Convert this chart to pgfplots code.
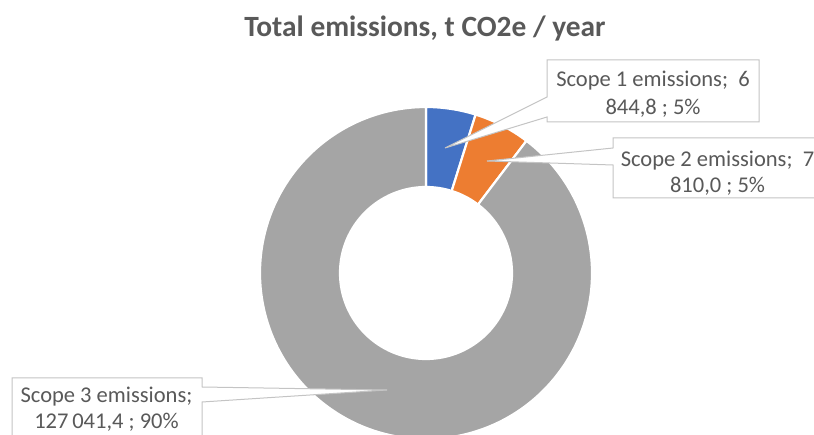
\documentclass[border=0pt]{standalone}
\usepackage{pgfplots}
\pgfplotsset{compat=1.18}
\usepackage{pgfplotstable}
\usepackage{fontspec}
\setmainfont{Carlito}
\definecolor{cblue}{HTML}{4472C4}
\definecolor{corange}{HTML}{ED7D31}
\definecolor{cgray}{HTML}{A5A5A5}
\definecolor{ctext}{HTML}{595959}
\definecolor{cbox}{HTML}{C4C4C4}

\pgfplotstableread{
id value
1 6844.8
2 7810.0
3 127041.4
}\emis

\newcommand\ringwedge[3]{%
  \filldraw[fill=#1, draw=white, line width=2.2bp]
    ([shift={(#2:166bp)}]axis cs:426,162) arc[start angle=#2, end angle=#3, radius=166bp]
    -- ([shift={(#3:86bp)}]axis cs:426,162) arc[start angle=#3, end angle=#2, radius=86bp] -- cycle;}

\begin{document}
\pgfplotstablegetelem{0}{value}\of\emis \edef\va{\pgfplotsretval}%
\pgfplotstablegetelem{1}{value}\of\emis \edef\vb{\pgfplotsretval}%
\pgfplotstablegetelem{2}{value}\of\emis \edef\vc{\pgfplotsretval}%
\edef\aA{90}%
\edef\aB{\fpeval{90-360*\va/(\va+\vb+\vc)}}%
\edef\aC{\fpeval{\aB-360*\vb/(\va+\vb+\vc)}}%
\edef\aD{\fpeval{\aC-360*\vc/(\va+\vb+\vc)}}%
\begin{tikzpicture}
\begin{axis}[scale only axis, width=814bp, height=435bp,
  xmin=0, xmax=814, ymin=0, ymax=435, hide axis, clip=true]
\ringwedge{cblue}{\aA}{\aB}
\ringwedge{corange}{\aB}{\aC}
\ringwedge{cgray}{\aC}{\aD}
% title
\node[font=\fontsize{29.5}{35}\selectfont\bfseries, text=ctext, anchor=base, inner sep=0]
  at (axis cs:425,398.5) {Total emissions, t CO2e / year};
% callouts
\filldraw[fill=white, draw=cbox, line width=1bp]
  (axis cs:547,375) -- (axis cs:759,375) -- (axis cs:759,313) -- (axis cs:547,313)
  -- (axis cs:547,318) -- (axis cs:445,287) -- (axis cs:547,338) -- cycle;
\filldraw[fill=white, draw=cbox, line width=1bp]
  (axis cs:613,297) -- (axis cs:830,297) -- (axis cs:830,237) -- (axis cs:613,237)
  -- (axis cs:613,270) -- (axis cs:487,274) -- (axis cs:613,287) -- cycle;
\filldraw[fill=white, draw=cbox, line width=1bp]
  (axis cs:12,57) -- (axis cs:202,57) -- (axis cs:202,48) -- (axis cs:387,45)
  -- (axis cs:202,33) -- (axis cs:202,-10) -- (axis cs:12,-10) -- cycle;
\begin{scope}[every node/.style={font=\fontsize{22.6}{27}\selectfont, text=ctext, anchor=base, inner sep=0}]
\node at (axis cs:653,348) {Scope 1 emissions;\ \ 6};
\node at (axis cs:653,320) {844,8 ; 5\%};
\node at (axis cs:717.5,268) {Scope 2 emissions;\ \ 7};
\node at (axis cs:717.5,242.5) {810,0 ; 5\%};
\node at (axis cs:106.5,32) {Scope 3 emissions;};
\node at (axis cs:106.5,7) {127\,041,4 ; 90\%};
\end{scope}
\end{axis}
\pgfresetboundingbox
\path[use as bounding box] (current axis.south west) rectangle (current axis.north east);
\end{tikzpicture}
\end{document}
